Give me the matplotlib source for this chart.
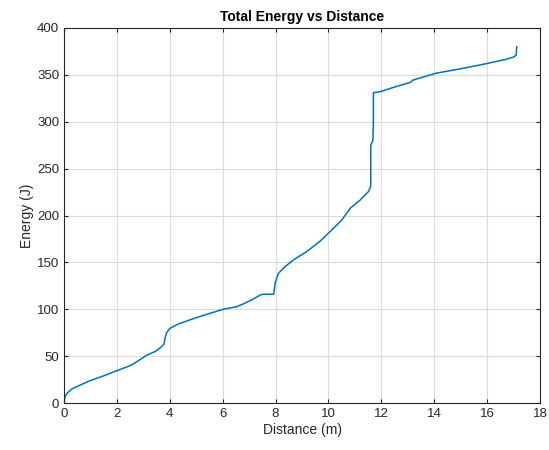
import matplotlib.pyplot as plt

# distance (m) and total energy (J)
distance = [0.0, 0.02, 0.1, 0.3, 0.6, 1.0, 1.5, 2.05, 2.56, 2.8, 3.13, 3.45, 3.69, 3.78, 3.82, 3.88,
            4.0, 4.3, 4.89, 5.5, 6.03, 6.53, 6.8, 7.1, 7.41, 7.5, 7.93, 7.96, 7.98, 8.1, 8.3,
            8.67, 9.2, 9.7, 10.12, 10.5, 10.82, 11.2, 11.51, 11.6, 11.6, 11.68, 11.7, 11.7,
            11.95, 12.5, 13.1, 13.2, 14.06, 15.0, 15.98, 16.7, 17.0, 17.1, 17.12]
energy = [0.0, 5, 10, 15, 19, 24, 29, 35, 40.5, 45, 51, 55, 60, 63, 69, 75,
          79.6, 84, 90, 95.5, 100, 102.8, 106, 110, 115, 116, 116, 122, 127.7, 138, 144,
          152.5, 162, 173, 184.5, 195, 207.6, 216.5, 225.4, 231, 275, 280, 300, 331,
          332, 337, 342, 344.5, 351.7, 356.5, 362, 366.5, 369, 371, 380]

plt.rcParams['font.family'] = ['Liberation Sans', 'DejaVu Sans']
fig = plt.figure(figsize=(5.49, 4.5), dpi=100)
ax = fig.add_axes([0.1166, 0.1044, 0.867, 0.8334])

ax.plot(distance, energy, color="#0072BD", linewidth=1.1)

ax.set_xlim(0, 18)
ax.set_ylim(0, 400)
ax.set_xticks(range(0, 19, 2))
ax.set_yticks(range(0, 401, 50))
ax.grid(True, color="#dcdcdc", linewidth=0.8)
ax.set_axisbelow(True)
ax.tick_params(direction="in", length=3, colors="#262626", labelsize=9.5, top=True, right=True,
               labeltop=False, labelright=False)
for s in ax.spines.values():
    s.set_color("#262626")
    s.set_linewidth(0.8)

ax.set_xlabel("Distance (m)", fontsize=10, color="#262626", labelpad=2)
ax.set_ylabel("Energy (J)", fontsize=10, color="#262626", labelpad=2)
ax.set_title("Total Energy vs Distance", fontsize=10, fontweight="bold", color="black", pad=5)

fig.savefig("out.png", dpi=100)
plt.close(fig)
